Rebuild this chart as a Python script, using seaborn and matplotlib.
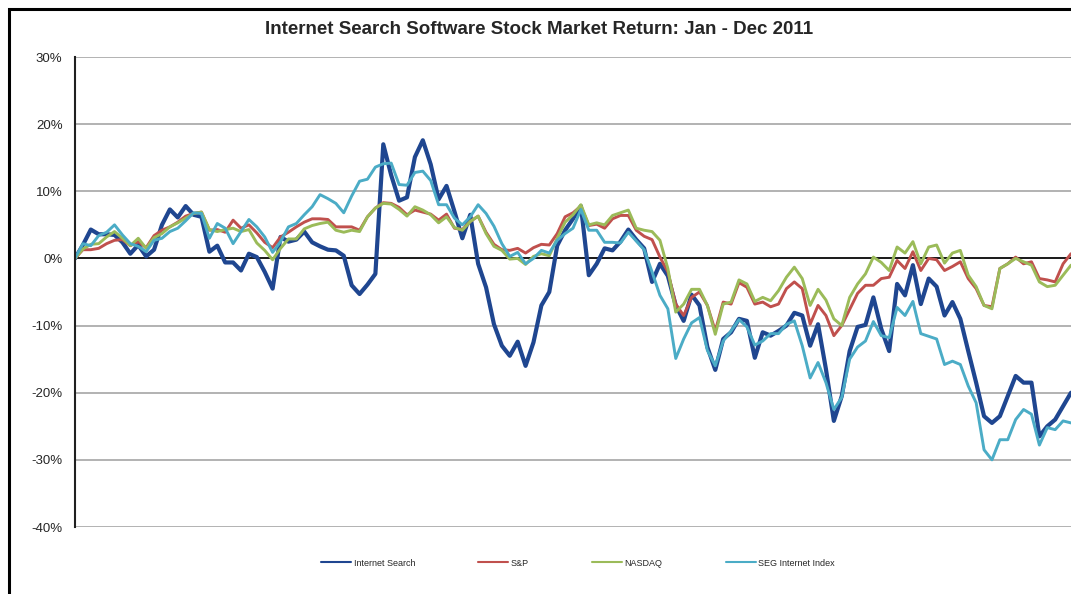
import numpy as np
import pandas as pd
import matplotlib
matplotlib.use('Agg')
import matplotlib.pyplot as plt
import seaborn as sns
from matplotlib.patches import Rectangle

# returns in %, sampled roughly every 2 trading days, Jan - Dec 2011
search = [0, 2.0, 4.3, 3.6, 3.6, 3.5, 2.4, 0.7, 2.0, 0.3,
          1.3, 5.0, 7.3, 6.1, 7.8, 6.5, 6.2, 1.0, 1.9, -0.6,
          -0.6, -1.8, 0.7, 0.2, -2.0, -4.5, 3.2, 2.5, 2.8, 4.0,
          2.4, 1.8, 1.3, 1.2, 0.4, -4.0, -5.3, -3.9, -2.3, 17.0,
          12.4, 8.6, 9.1, 15.1, 17.6, 14.0, 8.8, 10.8, 7.0, 3.0,
          6.5, -0.8, -4.3, -9.8, -13.0, -14.5, -12.4, -16.0, -12.5, -7.0,
          -5.0, 1.9, 4.2, 5.9, 7.8, -2.5, -0.8, 1.5, 1.2, 2.5,
          4.3, 2.8, 1.5, -3.5, -0.8, -2.6, -7.0, -9.3, -5.4, -7.0,
          -13.2, -16.6, -12.0, -11.0, -9.0, -9.3, -14.8, -11.0, -11.5, -10.8,
          -10.0, -8.1, -8.5, -13.0, -9.8, -16.5, -24.2, -20.5, -13.8, -10.2,
          -9.9, -5.8, -10.5, -13.8, -3.8, -5.5, -1.0, -6.8, -3.0, -4.2,
          -8.5, -6.5, -9.0, -13.8, -18.5, -23.5, -24.5, -23.5, -20.5, -17.5,
          -18.5, -18.5, -26.5, -25.0, -24.0, -22.0, -20.0]

sp = [0, 1.3, 1.3, 1.5, 2.2, 2.7, 2.8, 1.9, 2.5, 1.6,
      3.4, 4.2, 4.7, 5.4, 6.3, 6.7, 6.9, 4.2, 4.3, 3.9,
      5.7, 4.5, 5.0, 3.8, 2.4, 1.6, 3.2, 3.9, 4.7, 5.4,
      5.9, 5.9, 5.8, 4.7, 4.7, 4.7, 4.2, 6.2, 7.5, 8.3,
      8.2, 7.6, 6.5, 7.2, 6.9, 6.6, 5.7, 6.6, 4.5, 4.3,
      5.5, 6.3, 3.9, 2.1, 1.3, 1.2, 1.5, 0.8, 1.6, 2.1,
      2.0, 3.7, 6.2, 6.8, 7.8, 4.9, 5.1, 4.5, 5.9, 6.4,
      6.4, 4.2, 3.3, 2.8, 0.2, -2.0, -6.8, -8.5, -5.8, -5.0,
      -7.0, -10.8, -6.5, -6.8, -3.6, -4.3, -6.8, -6.5, -7.2, -6.8,
      -4.5, -3.5, -4.5, -9.8, -7.0, -8.5, -11.5, -10.0, -7.6, -5.2,
      -4.0, -4.0, -3.0, -2.8, -0.3, -1.5, 1.0, -1.8, 0.0, -0.2,
      -1.8, -1.2, -0.5, -3.0, -4.5, -7.0, -7.2, -1.5, -0.8, 0.2,
      -0.8, -0.5, -3.0, -3.2, -3.5, -0.8, 0.7]

nasdaq = [0, 1.4, 2.1, 2.2, 3.2, 4.0, 3.0, 1.9, 3.0, 1.5,
          3.1, 3.7, 4.7, 5.3, 6.0, 6.7, 6.9, 4.3, 4.0, 4.3,
          4.5, 4.0, 4.3, 2.3, 1.2, -0.2, 1.5, 2.9, 2.9, 4.4,
          4.9, 5.2, 5.4, 4.2, 3.9, 4.2, 4.0, 6.2, 7.5, 8.2,
          8.1, 7.3, 6.3, 7.7, 7.2, 6.5, 5.3, 6.2, 4.6, 4.2,
          5.5, 6.3, 3.7, 1.8, 1.2, -0.1, 0.0, -0.9, 0.3, 0.7,
          0.4, 3.0, 5.4, 6.5, 8.0, 5.0, 5.3, 5.0, 6.4, 6.8,
          7.2, 4.5, 4.2, 4.0, 2.7, -1.5, -8.0, -6.8, -4.6, -4.6,
          -7.0, -11.3, -6.8, -6.5, -3.2, -3.8, -6.4, -5.8, -6.3, -4.8,
          -2.8, -1.3, -3.0, -7.0, -4.6, -6.2, -9.0, -10.0, -5.8, -3.8,
          -2.3, 0.2, -0.6, -1.8, 1.7, 0.8, 2.5, -0.8, 1.7, 2.0,
          -0.7, 0.8, 1.2, -2.5, -4.2, -7.0, -7.5, -1.5, -0.8, 0.0,
          -0.5, -1.0, -3.5, -4.2, -4.0, -2.5, -1.0]

seg = [0, 2.2, 1.9, 3.4, 3.9, 5.0, 3.5, 2.2, 1.8, 1.0,
       2.7, 3.0, 4.0, 4.5, 5.6, 6.8, 6.7, 3.0, 5.2, 4.5,
       2.2, 4.0, 5.8, 4.7, 3.2, 0.9, 2.5, 4.7, 5.2, 6.5,
       7.7, 9.5, 8.9, 8.2, 6.8, 9.3, 11.5, 11.8, 13.6, 14.1,
       14.2, 11.0, 10.9, 12.8, 13.0, 11.6, 8.0, 8.0, 6.0, 5.0,
       6.2, 8.0, 6.7, 4.8, 2.2, 0.3, 0.9, -0.8, 0.0, 1.2,
       0.8, 2.7, 3.7, 4.5, 7.3, 4.2, 4.2, 2.4, 2.4, 2.3,
       3.9, 2.6, 1.3, -2.0, -5.5, -7.5, -14.9, -12.0, -9.6, -8.8,
       -13.7, -16.0, -12.3, -10.8, -9.1, -10.2, -12.9, -12.3, -11.2, -11.2,
       -9.8, -9.3, -13.0, -17.8, -15.5, -18.5, -22.5, -20.7, -15.0, -13.2,
       -12.3, -9.4, -11.5, -11.8, -7.3, -8.5, -6.4, -11.2, -11.6, -12.0,
       -15.8, -15.3, -15.8, -19.0, -21.5, -28.5, -30.0, -27.0, -27.0, -24.0,
       -22.5, -23.2, -27.8, -25.2, -25.5, -24.2, -24.5]

names = ['Internet Search', 'S&P', 'NASDAQ', 'SEG Internet Index']
colors = ['#1F4690', '#C0504D', '#9BBB59', '#4BACC6']
widths = [3.0, 2.1, 2.1, 2.1]
yticks = [-40, -30, -20, -10, 0, 10, 20, 30]

df = pd.DataFrame({'day': np.arange(len(search)), 'Internet Search': search,
                   'S&P': sp, 'NASDAQ': nasdaq, 'SEG Internet Index': seg})

sns.set_style('white')
plt.rcParams['font.family'] = ['Liberation Sans', 'DejaVu Sans']

fig = plt.figure(figsize=(10.71, 5.94), dpi=100)
ax = fig.add_axes([75 / 1071, 67 / 594, 1 - 75 / 1071, 470 / 594])

for name, c, w in zip(names, colors, widths):
    sns.lineplot(data=df, x='day', y=name, color=c, linewidth=w, ax=ax, label=name)

ax.set_xlim(0, len(search) - 1)
ax.set_ylim(-40, 30)
ax.set_yticks(yticks)
ax.set_yticklabels([f'{v}%' for v in yticks], fontsize=9.5)
ax.set_xticks([])
ax.set_xlabel('')
ax.set_ylabel('')
ax.tick_params(axis='y', length=0, pad=9)
ax.yaxis.grid(True, color='#A6A6A6', linewidth=1.2)
ax.set_axisbelow(True)
ax.axhline(0, color='black', linewidth=1.2, zorder=1.5)
for s in ['top', 'right', 'bottom']:
    ax.spines[s].set_visible(False)
ax.spines['left'].set_color('#202020')
ax.spines['left'].set_linewidth(1.5)

handles, labels = ax.get_legend_handles_labels()
ax.legend_.remove()
fig.legend(handles, labels, loc='center', bbox_to_anchor=(578 / 1071, 1 - 563 / 594),
           ncol=4, frameon=False, fontsize=6.5, handlelength=3.3,
           columnspacing=7, handletextpad=0.3)
for h in fig.legends[0].legend_handles:
    h.set_linewidth(1.5)

fig.text(539 / 1071, 1 - 30 / 594, 'Internet Search Software Stock Market Return: Jan - Dec 2011',
         ha='center', va='center', fontsize=13.5, fontweight='bold')

fig.patches.append(Rectangle((9 / 1071, -0.1), 1.2, 1.1 - 9 / 594, transform=fig.transFigure,
                             fill=False, edgecolor='black', linewidth=2.2))

fig.savefig('out.png', dpi=100)
